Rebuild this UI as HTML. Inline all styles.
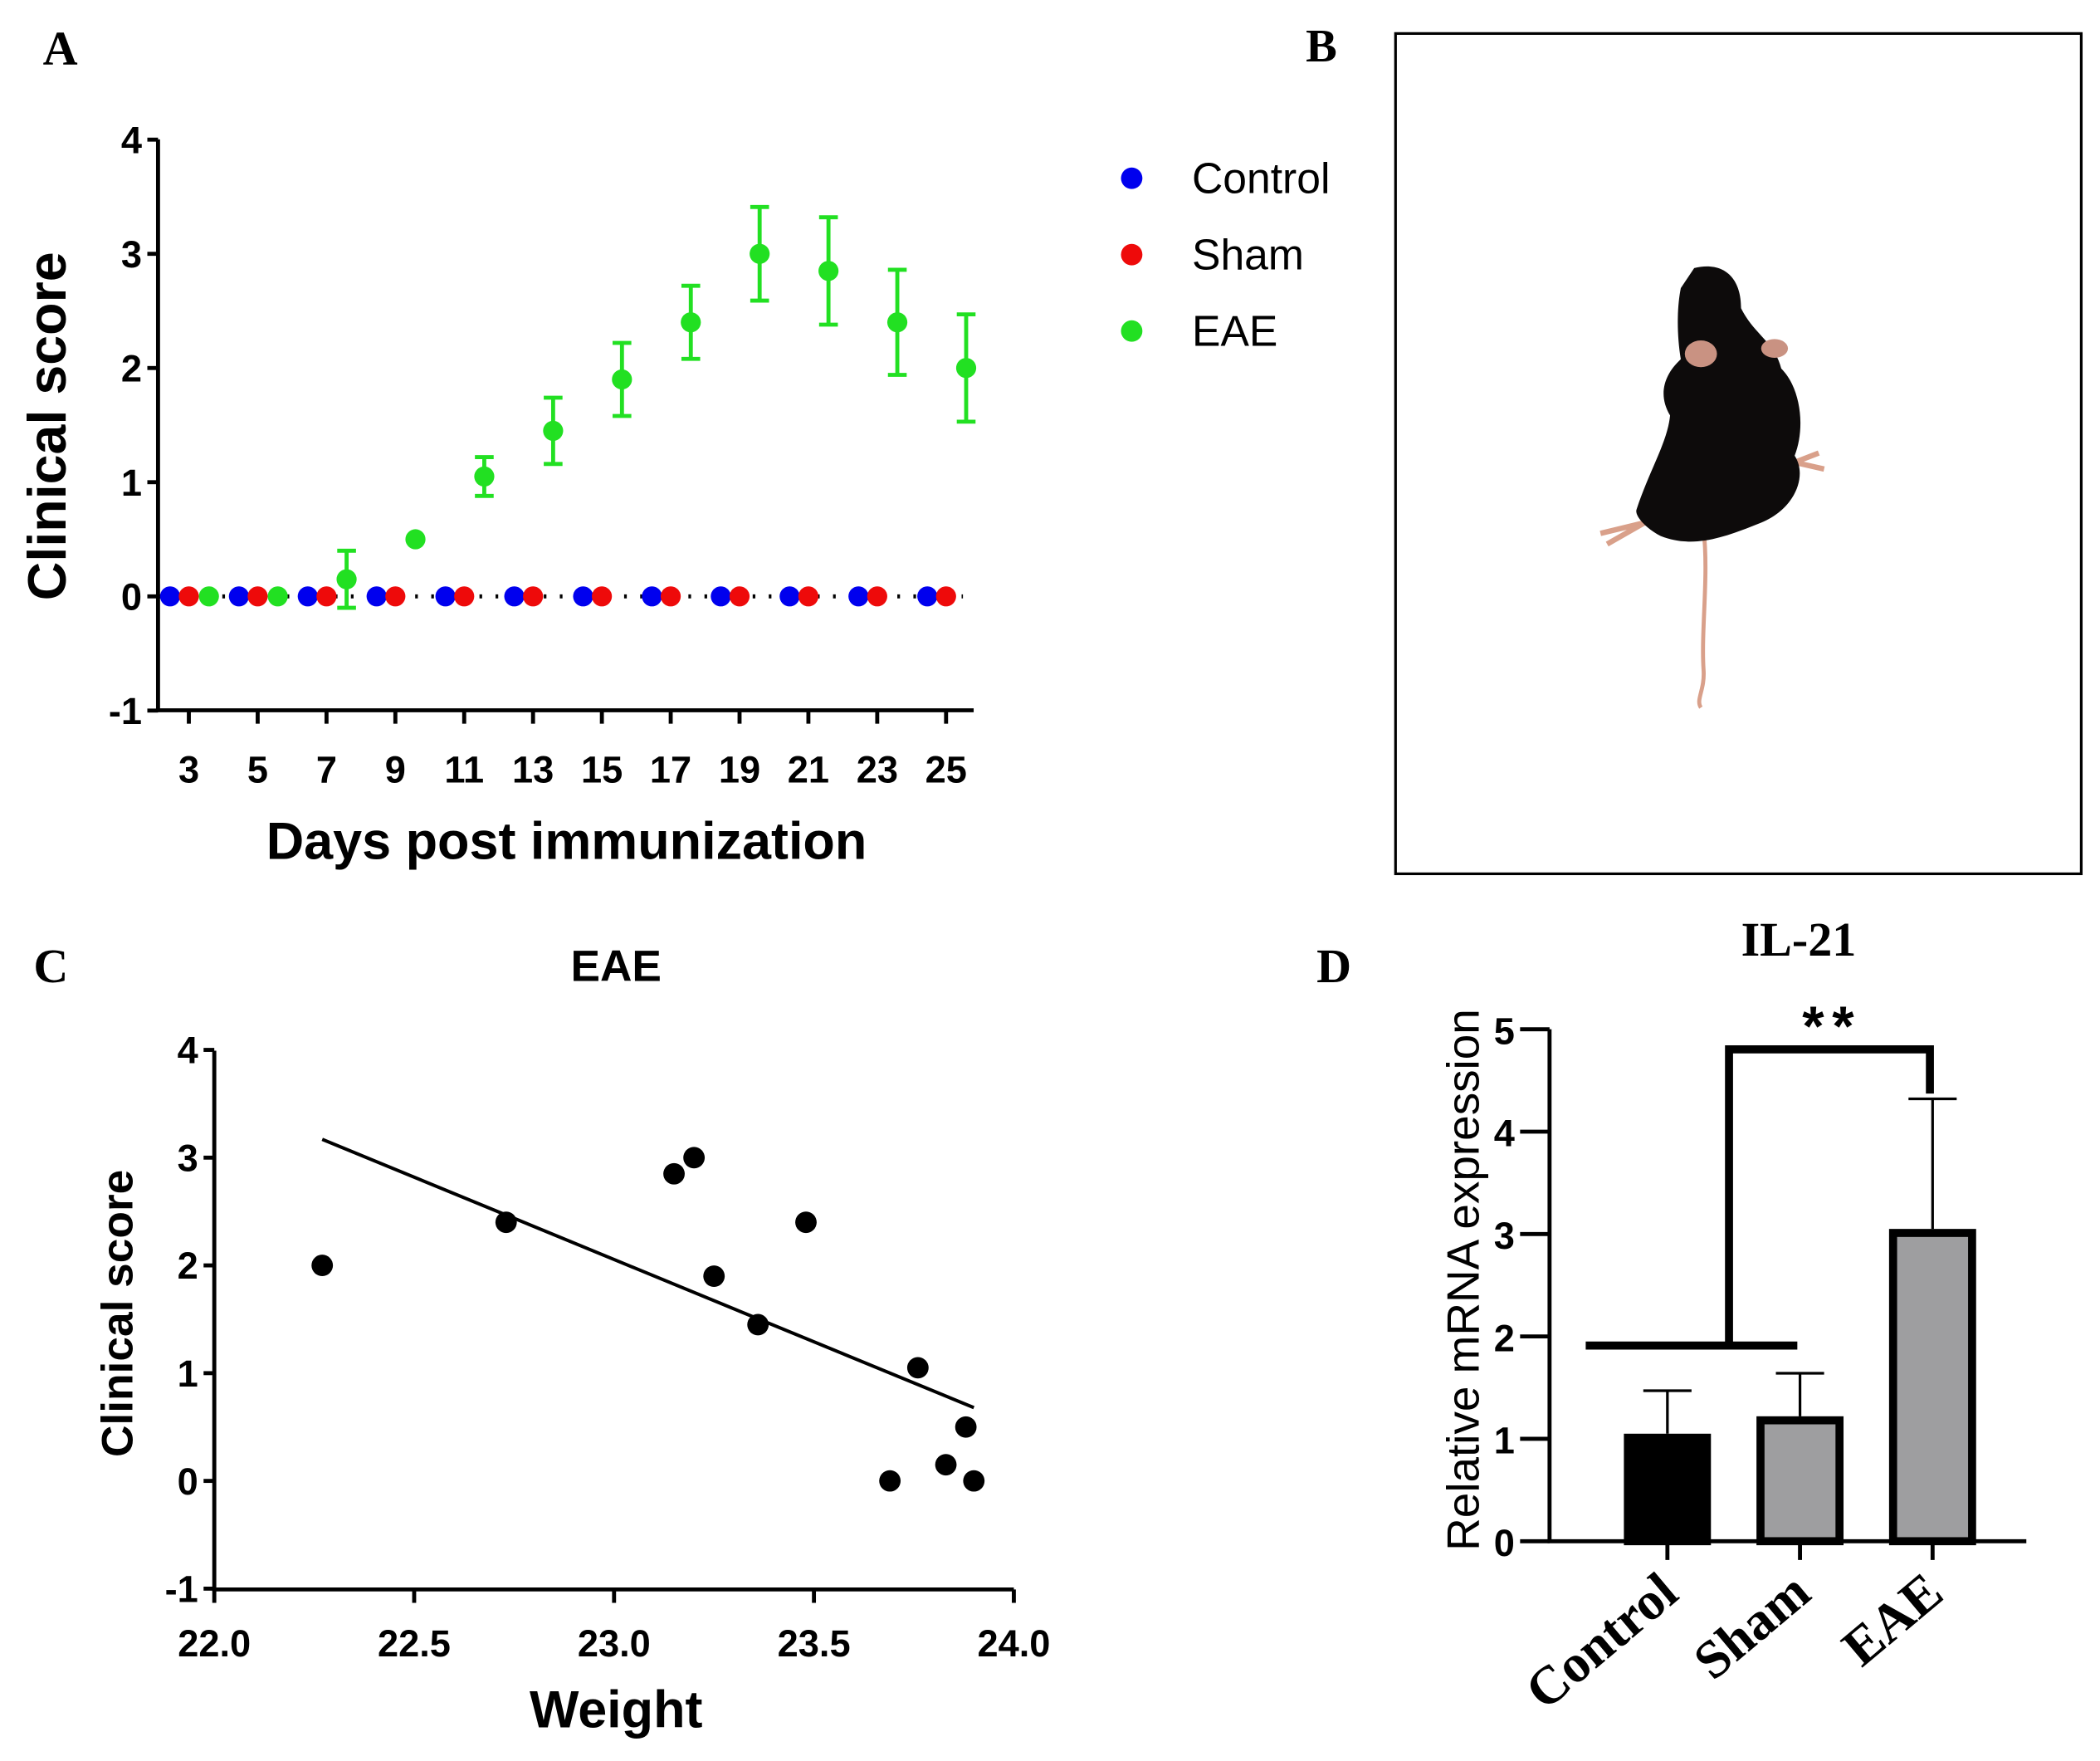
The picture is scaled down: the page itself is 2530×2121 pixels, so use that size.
<!DOCTYPE html>
<html><head><meta charset="utf-8"><style>
html,body{margin:0;padding:0;background:#fff;}
svg{display:block;}
text{font-family:"Liberation Sans",sans-serif;}
.tk{font-weight:bold;font-size:28px;}
.serif{font-family:"Liberation Serif",serif;font-weight:bold;}
</style></head><body>
<svg id="fig" width="2530" height="2121" viewBox="0 0 1568 1314" preserveAspectRatio="none" xmlns="http://www.w3.org/2000/svg">
<rect width="1568" height="1314" fill="#fff"/>
<g id="panelA"></g>
<g id="panelB">
  <text class="serif" x="975" y="46" font-size="35">B</text>
  <rect x="1042" y="25" width="512" height="627" fill="#fff" stroke="#000" stroke-width="2"/>
  <g>
    <path d="M1272 395 C1276 430 1270 470 1272 500 C1273 515 1266 522 1270 528" stroke="#d9a08a" stroke-width="3" fill="none"/>
    <path d="M1228 390 L1195 398 M1228 390 L1200 406" stroke="#d9a08a" stroke-width="4" fill="none"/>
    <path d="M1340 345 L1362 350 M1340 345 L1358 338" stroke="#d9a08a" stroke-width="4" fill="none"/>
    <path d="M1265 200 C1285 195 1300 205 1300 230 C1310 250 1325 255 1330 275 C1345 290 1348 320 1340 340 C1350 355 1340 380 1315 390 C1290 400 1265 410 1240 400 C1230 395 1220 385 1222 380 C1232 350 1245 330 1247 310 C1238 295 1242 280 1255 268 C1252 250 1252 230 1255 215 Z" fill="#0d0b0b"/>
    <ellipse cx="1270" cy="264" rx="12" ry="10" fill="#c99282"/>
    <ellipse cx="1325" cy="260" rx="10" ry="7" fill="#c99282"/>
  </g>
</g>
<g id="panelC"></g>
<g id="panelD"></g>
</svg>
<script>
// ===== Panel A data =====
const daysA = [3,5,7,9,11,13,15,17,19,21,23,25];
const controlA = [0,0,0,0,0,0,0,0,0,0,0,0];
const shamA = [0,0,0,0,0,0,0,0,0,0,0,0];
const eaeDays = [3,5,7,9,11,13,15,17,19,21,23,25];
const eaeMean = [0,0,0.15,0.5,1.05,1.45,1.9,2.4,3.0,2.85,2.4,2.0];
const eaeErr = [0,0,0.25,0,0.17,0.29,0.32,0.32,0.41,0.47,0.46,0.47];
const yTicksA = [-1,0,1,2,3,4];
// ===== Panel C data =====
const weightC = [22.27,22.73,23.15,23.2,23.25,23.36,23.48,23.69,23.76,23.83,23.88,23.9];
const scoreC = [2.0,2.4,2.85,3.0,1.9,1.45,2.4,0,1.05,0.15,0.5,0];
const fitX = [22.27,23.9];
const fitY = [3.17,0.68];
const xTicksC = ["22.0","22.5","23.0","23.5","24.0"];
const yTicksC = [-1,0,1,2,3,4];
// ===== Panel D data =====
const catsD = ["Control","Sham","EAE"];
const meanD = [1.05,1.22,3.05];
const errD = [0.42,0.42,1.27];
const yTicksD = [0,1,2,3,4,5];

const NS = "http://www.w3.org/2000/svg";
function mk(parent, tag, attrs, txt){
  const e = document.createElementNS(NS, tag);
  for (const k in attrs) e.setAttribute(k, attrs[k]);
  if (txt !== undefined) e.textContent = txt;
  parent.appendChild(e);
  return e;
}

// ---------- Panel A ----------
(function(){
  const g = document.getElementById('panelA');
  const X0 = 118, X1 = 727, Y0 = 530, Y1 = 104;
  const xs = d => 141 + (d - 3) * 25.7;
  const ys = v => 445 - v * 85.2;
  let t = mk(g,'text',{x:32,y:48,'font-size':36,class:'serif'},'A');
   
  let ax = mk(g,'path',{d:`M${X0} ${Y1} L${X0} ${Y0} L${X1} ${Y0}`,stroke:'#000','stroke-width':3,fill:'none'});
   
  yTicksA.forEach(v=>{
    const l = mk(g,'line',{x1:X0-8,x2:X0,y1:ys(v),y2:ys(v),stroke:'#000','stroke-width':3});
     
    const tx = mk(g,'text',{x:X0-12,y:ys(v)+10,'text-anchor':'end',class:'tk'},String(v));
     
  });
  daysA.forEach(d=>{
    const l = mk(g,'line',{x1:xs(d),x2:xs(d),y1:Y0,y2:Y0+10,stroke:'#000','stroke-width':3});
     
    const tx = mk(g,'text',{x:xs(d),y:Y0+54,'text-anchor':'middle',class:'tk'},String(d));
     
  });
  const zl = mk(g,'line',{x1:X0,x2:X1-8,y1:ys(0),y2:ys(0),stroke:'#000','stroke-width':3,'stroke-dasharray':'2 10'});
   
  daysA.forEach((d,i)=>{
    const c1 = mk(g,'circle',{cx:xs(d)-14,cy:ys(controlA[i]),r:7.5,fill:'#0000ee'});
     
    const c2 = mk(g,'circle',{cx:xs(d),cy:ys(shamA[i]),r:7.5,fill:'#ee0a0a'});
     
  });
  eaeDays.forEach((d,i)=>{
    const x = xs(d)+15, m = eaeMean[i], e = eaeErr[i];
    if (e > 0){
      const p = mk(g,'path',{d:`M${x-7} ${ys(m+e)} H${x+7} M${x} ${ys(m+e)} V${ys(m-e)} M${x-7} ${ys(m-e)} H${x+7}`,stroke:'#22e022','stroke-width':3,fill:'none'});
       
    }
    const c = mk(g,'circle',{cx:x,cy:ys(m),r:7.5,fill:'#22e022'});
     
  });
  let yl = mk(g,'text',{x:0,y:0,transform:'translate(49 318) rotate(-90)','text-anchor':'middle','font-size':40,'font-weight':'bold'},'Clinical score');
   
  let xl = mk(g,'text',{x:423,y:641,'text-anchor':'middle','font-size':39,'font-weight':'bold'},'Days post immunization');
   
  const leg = [['Control','#0000ee',133],['Sham','#ee0a0a',190],['EAE','#22e022',247]];
  leg.forEach(L=>{
    const c = mk(g,'circle',{cx:845,cy:L[2],r:8,fill:L[1]});
     
    const tx = mk(g,'text',{x:890,y:L[2]+11,'font-size':32},L[0]);
     
  });
})();

// ---------- Panel C ----------
(function(){
  const g = document.getElementById('panelC');
  const X0 = 160, X1 = 757, Y0 = 1186, Y1 = 784;
  const xs = w => X0 + (w - 22) / 2 * (X1 - X0);
  const ys = v => 1105 - v * 80.4;
  let t = mk(g,'text',{x:25,y:733,'font-size':36,class:'serif'},'C');
   
  let ti = mk(g,'text',{x:460,y:732,'text-anchor':'middle','font-size':33,'font-weight':'bold'},'EAE');
   
  let ax = mk(g,'path',{d:`M${X0} ${Y1} L${X0} ${Y0} L${X1} ${Y0}`,stroke:'#000','stroke-width':3,fill:'none'});
   
  yTicksC.forEach(v=>{
    const l = mk(g,'line',{x1:X0-8,x2:X0,y1:ys(v),y2:ys(v),stroke:'#000','stroke-width':3});
     
    const tx = mk(g,'text',{x:X0-12,y:ys(v)+10,'text-anchor':'end',class:'tk'},String(v));
     
  });
  xTicksC.forEach(s=>{
    const x = xs(parseFloat(s));
    const l = mk(g,'line',{x1:x,x2:x,y1:Y0,y2:Y0+10,stroke:'#000','stroke-width':3});
     
    const tx = mk(g,'text',{x:x,y:Y0+50,'text-anchor':'middle',class:'tk'},s);
     
  });
  const fl = mk(g,'line',{x1:xs(fitX[0]),y1:ys(fitY[0]),x2:xs(fitX[1]),y2:ys(fitY[1]),stroke:'#000','stroke-width':2.5});
   
  weightC.forEach((w,i)=>{
    const c = mk(g,'circle',{cx:xs(w),cy:ys(scoreC[i]),r:8,fill:'#000'});
     
  });
  let yl = mk(g,'text',{x:0,y:0,transform:'translate(99 980) rotate(-90)','text-anchor':'middle','font-size':33,'font-weight':'bold'},'Clinical score');
   
  let xl = mk(g,'text',{x:460,y:1289,'text-anchor':'middle','font-size':39,'font-weight':'bold'},'Weight');
   
})();

// ---------- Panel D ----------
(function(){
  const g = document.getElementById('panelD');
  const X0 = 1157, X1 = 1513, Y0 = 1150, Y1 = 768;
  const ys = v => Y0 - v * 76.4;
  const xc = i => 1245 + i * 99;
  const bw = 65;
  let t = mk(g,'text',{x:983,y:733,'font-size':36,class:'serif'},'D');
   
  let ti = mk(g,'text',{x:1343,y:713,'text-anchor':'middle','font-size':36,class:'serif'},'IL-21');
   
  const fills = ['#000','#9e9ea0','#9e9ea0'];
  catsD.forEach((c,i)=>{
    const x = xc(i), m = meanD[i], e = errD[i];
    const eb = mk(g,'path',{d:`M${x} ${ys(m)} V${ys(m+e)} M${x-18} ${ys(m+e)} H${x+18}`,stroke:'#000','stroke-width':2,fill:'none'});
     
    const r = mk(g,'rect',{x:x-bw/2+3,y:ys(m)+3,width:bw-6,height:ys(0)-ys(m)-3,fill:fills[i],stroke:'#000','stroke-width':6});
     
    const tk = mk(g,'line',{x1:x,x2:x,y1:Y0,y2:Y0+14,stroke:'#000','stroke-width':3});
     
    const lb = mk(g,'text',{x:0,y:0,transform:`translate(${x+10} ${Y0+42}) rotate(-40)`,'text-anchor':'end','font-size':40,class:'serif'},c);
     
  });
  let ax = mk(g,'path',{d:`M${X0} ${Y1} L${X0} ${Y0} L${X1} ${Y0}`,stroke:'#000','stroke-width':3,fill:'none'});
   
  yTicksD.forEach(v=>{
    const l = mk(g,'line',{x1:X0-22,x2:X0,y1:ys(v),y2:ys(v),stroke:'#000','stroke-width':3});
     
    const tx = mk(g,'text',{x:X0-26,y:ys(v)+11,'text-anchor':'end',class:'tk','font-size':31},String(v));
     
  });
  const br = mk(g,'path',{d:`M1184 1004 H1342 M1291 1004 V783 H1441 V816`,stroke:'#000','stroke-width':6,fill:'none'});
   
  const st = mk(g,'text',{x:1368,y:780,'text-anchor':'middle','font-size':42,'font-weight':'bold','letter-spacing':'6'},'**');
   
  let yl = mk(g,'text',{x:0,y:0,transform:'translate(1104 955) rotate(-90)','text-anchor':'middle','font-size':34},'Relative mRNA expression');
   
})();
</script>
</body></html>
